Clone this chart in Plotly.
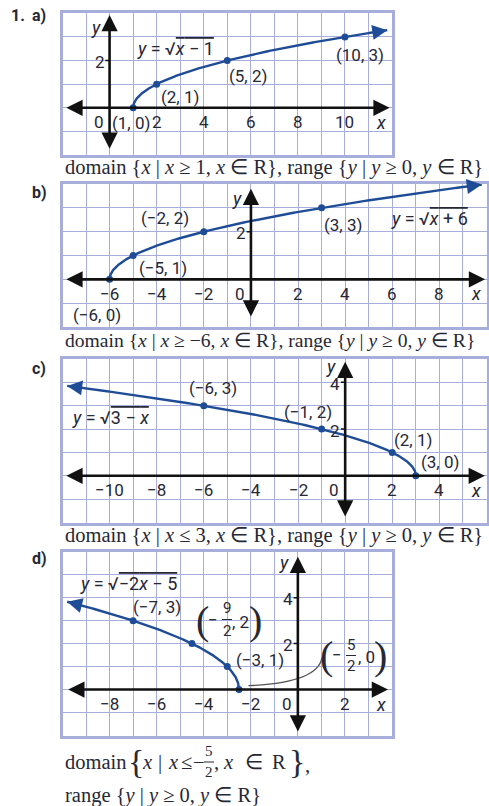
import numpy as np
import plotly.graph_objects as go

W, H = 489, 806

# ---- data: labelled points on each graph -------------------------------
a_x = [1, 2, 5, 10]
a_y = [0, 1, 2, 3]
b_x = [-6, -5, -2, 3]
b_y = [0, 1, 2, 3]
c_x = [-6, -1, 2, 3]
c_y = [3, 2, 1, 0]
d_x = [-7, -4.5, -3, -2.5]
d_y = [3, 2, 1, 0]

# x-extent of each drawn curve (vertex end, arrow end)
a_span = [1, 11.8]
b_span = [-6, 9.8]
c_span = [3, -11.8]
d_span = [-2.5, -9.8]

# axis tick labels
a_xticks = [2, 4, 6, 8, 10]
b_xticks = [-6, -4, -2, 2, 4, 6, 8]
c_xticks = [-10, -8, -6, -4, -2, 2, 4]
d_xticks = [-8, -6, -4, -2, 2]
a_yticks = [2]
b_yticks = [2]
c_yticks = [4, 2]
d_yticks = [4, 2]


def f_a(x):
    return np.sqrt(x - 1)


def f_b(x):
    return np.sqrt(x + 6)


def f_c(x):
    return np.sqrt(3 - x)


def f_d(x):
    return np.sqrt(-2 * x - 5)


GRID = "#a8aedb"
CURVE = "#1f4c96"
INK = "#262835"
SANS = "Roboto, Arial, sans-serif"
SERIF = "Liberation Serif, Times New Roman, serif"
LBL = 17

# panel layout: plot box in pixels (left, right, top, bottom), ranges,
# axis extents and offset of the "y" caption below the box top
panels = {
    "a": dict(box=(62.5, 392, 13.3, 155), xr=(-2, 12), yr=(-2, 4),
              xax=(-1.9, 11.9), yax=(-1.8, 3.93), ycap=14),
    "b": dict(box=(62.5, 486.5, 184, 327), xr=(-8, 10), yr=(-2, 4),
              xax=(-7.9, 9.94), yax=(-1.62, 3.8), ycap=14),
    "c": dict(box=(62.5, 486.5, 359, 522.5), xr=(-12, 6), yr=(-2, 5),
              xax=(-11.9, 5.93), yax=(-1.81, 4.88), ycap=7.5),
    "d": dict(box=(62.5, 392, 551.7, 735.5), xr=(-10, 4), yr=(-2, 6),
              xax=(-9.82, 3.83), yax=(-1.89, 5.78), ycap=11),
}

series = {
    "a": (a_x, a_y, a_span, f_a, a_xticks, a_yticks),
    "b": (b_x, b_y, b_span, f_b, b_xticks, b_yticks),
    "c": (c_x, c_y, c_span, f_c, c_xticks, c_yticks),
    "d": (d_x, d_y, d_span, f_d, d_xticks, d_yticks),
}

fig = go.Figure()
annotations = []
shapes = []


def P(px, py):
    return px / W, 1 - py / H


def text(px, py, s, size=LBL, font=SANS, color=INK, xanchor="center", yanchor="middle"):
    x, y = P(px, py)
    annotations.append(dict(x=x, y=y, xref="paper", yref="paper", text=s,
                            showarrow=False, xanchor=xanchor, yanchor=yanchor,
                            font=dict(family=font, size=size, color=color)))


def hline(px0, px1, py, color=INK, width=1):
    x0, y0 = P(px0, py)
    x1, _ = P(px1, py)
    shapes.append(dict(type="line", xref="paper", yref="paper", x0=x0, x1=x1,
                       y0=y0, y1=y0, line=dict(color=color, width=width)))


for i, key in enumerate(["a", "b", "c", "d"], start=1):
    p = panels[key]
    xs, ys, span, fn, xt, yt = series[key]
    left, right, top, bottom = p["box"]
    xa = "xaxis" if i == 1 else f"xaxis{i}"
    ya = "yaxis" if i == 1 else f"yaxis{i}"
    xr_ref = "x" if i == 1 else f"x{i}"
    yr_ref = "y" if i == 1 else f"y{i}"
    common = dict(showgrid=True, gridcolor=GRID, gridwidth=1.3, dtick=1,
                  tick0=0, zeroline=False, showticklabels=False, ticks="",
                  showline=True, mirror=True, linecolor=GRID, linewidth=3,
                  fixedrange=True)
    fig.update_layout(**{
        xa: dict(domain=[left / W, right / W], range=list(p["xr"]),
                 anchor=yr_ref, **common),
        ya: dict(domain=[1 - bottom / H, 1 - top / H], range=list(p["yr"]),
                 anchor=xr_ref, **common),
    })

    # coordinate axes with arrowheads at both ends
    x0, x1 = p["xax"]
    annotations.append(dict(x=x1, y=0, ax=x0, ay=0, xref=xr_ref, yref=yr_ref,
                            axref=xr_ref, ayref=yr_ref, text="", showarrow=True,
                            arrowhead=2, arrowside="end+start", arrowsize=1.25,
                            arrowwidth=2.6, arrowcolor="#111111"))
    y0, y1 = p["yax"]
    annotations.append(dict(x=0, y=y1, ax=0, ay=y0, xref=xr_ref, yref=yr_ref,
                            axref=xr_ref, ayref=yr_ref, text="", showarrow=True,
                            arrowhead=2, arrowside="end+start", arrowsize=1.25,
                            arrowwidth=2.6, arrowcolor="#111111"))
    for v in yt:
        shapes.append(dict(type="line", xref=xr_ref, yref=yr_ref, x0=-0.18, x1=0,
                           y0=v, y1=v, line=dict(color="#111111", width=1.5)))

    # curve: dense near the vertex
    s = np.linspace(0, 1, 240)
    cx = span[0] + (span[1] - span[0]) * s ** 2
    cy = fn(cx)
    fig.add_trace(go.Scatter(x=cx, y=cy, mode="lines", xaxis=xr_ref, yaxis=yr_ref,
                             line=dict(color=CURVE, width=2.4), hoverinfo="skip",
                             showlegend=False))
    # arrow at the open end of the curve
    xe = span[1]
    xb = xe - 0.35 * np.sign(span[1] - span[0])
    annotations.append(dict(x=xe, y=float(fn(xe)), ax=xb, ay=float(fn(xb)),
                            xref=xr_ref, yref=yr_ref, axref=xr_ref, ayref=yr_ref,
                            text="", showarrow=True, arrowhead=2, arrowsize=1.25,
                            arrowwidth=2.4, arrowcolor=CURVE))
    fig.add_trace(go.Scatter(x=xs, y=ys, mode="markers", xaxis=xr_ref, yaxis=yr_ref,
                             marker=dict(color=CURVE, size=7), showlegend=False,
                             hoverinfo="skip"))

    # tick labels drawn beside the axes
    ux = (right - left) / (p["xr"][1] - p["xr"][0])
    uy = (bottom - top) / (p["yr"][1] - p["yr"][0])
    ox = left - p["xr"][0] * ux
    oy = top + p["yr"][1] * uy
    lab_y = oy + 14.5
    for v in xt:
        lbl = str(v).replace("-", "−")
        text(ox + v * ux, lab_y, lbl)
    text(ox - 11, lab_y, "0")
    text(ox + (p["xr"][1] - 0.45) * ux, lab_y, "<i>x</i>", size=18)
    text(ox - 14, top + p["ycap"], "<i>y</i>", size=18)
    for v in yt:
        text(ox - 10, oy - v * uy + 1.5, str(v))

# ---- point labels and equations ----------------------------------------
OL = "<span style='text-decoration:overline'>"
EQ = 18
text(135, 48, "<i>y</i> = √" + OL + "<i>x</i> − 1</span>", size=EQ, xanchor="left")
text(131, 123, "(1, 0)")
text(180, 97, "(2, 1)")
text(248, 76, "(5, 2)")
text(360, 55, "(10, 3)")

text(389, 218, "<i>y</i> = √" + OL + "<i>x</i> + 6</span>", size=EQ, xanchor="left")
text(165, 218, "(−2, 2)")
text(163, 268, "(−5, 1)")
text(343, 225, "(3, 3)")
text(97, 314.5, "(−6, 0)")

text(70, 417, "<i>y</i> = √" + OL + "3 − <i>x</i></span>", size=EQ, xanchor="left")
text(213, 388, "(−6, 3)")
text(308, 412, "(−1, 2)")
text(413, 440, "(2, 1)")
text(440, 462, "(3, 0)")

text(78, 583, "<i>y</i> = √" + OL + "−2<i>x</i> − 5</span>", size=EQ, xanchor="left")
text(157, 607, "(−7, 3)")
text(260, 660, "(−3, 1)")
# (−9/2, 2)
text(202, 620, "(", size=40, font=SERIF)
text(213, 620, "−")
text(227, 608, "9", size=15)
text(227, 631, "2", size=15)
hline(222, 232, 619.5)
text(240, 622, ", 2")
text(255, 620, ")", size=40, font=SERIF)
# (−5/2, 0)
text(326, 655, "(", size=40, font=SERIF)
text(337, 655, "−")
text(351, 645, "5", size=15)
text(351, 666, "2", size=15)
hline(346, 356, 655.5)
text(366, 657, ", 0")
text(380, 655, ")", size=40, font=SERIF)
shapes.append(dict(type="path", xref="x4", yref="y4",
                   path="M -2.1,0.17 Q 0.85,0.3 1.02,1.38",
                   line=dict(color="#555555", width=1.3)))

# ---- panel letters -----------------------------------------------------
text(9, 15, "<b>1.</b>", size=16, xanchor="left")
text(30, 15, "<b>a)</b>", size=16, xanchor="left")
text(30, 192, "<b>b)</b>", size=16, xanchor="left")
text(30, 368, "<b>c)</b>", size=16, xanchor="left")
text(30, 558, "<b>d)</b>", size=16, xanchor="left")

# ---- domain and range statements ---------------------------------------
DS = 20.5
rng = "range {<i>y</i> | <i>y</i> ≥ 0, <i>y</i> ∈ R}"
text(63, 168, "domain {<i>x</i> | <i>x</i> ≥ 1, <i>x</i> ∈ R}, " + rng,
     size=DS, font=SERIF, xanchor="left")
text(63, 340, "domain {<i>x</i> | <i>x</i> ≥ −6, <i>x</i> ∈ R}, " + rng,
     size=19.6, font=SERIF, xanchor="left")
text(63, 535, "domain {<i>x</i> | <i>x</i> ≤ 3, <i>x</i> ∈ R}, " + rng,
     size=DS, font=SERIF, xanchor="left")
text(63, 762, "domain", size=DS, font=SERIF, xanchor="left")
text(136, 761, "{", size=34, font=SERIF)
for cx_, s_ in [(147, "<i>x</i>"), (160, "|"), (173, "<i>x</i>"), (186, "≤"), (199, "−"),
                (216, ","), (228, "<i>x</i>"), (254, "∈"), (279, "R")]:
    text(cx_, 762, s_, size=DS, font=SERIF)
text(209, 751, "5", size=15, font=SERIF)
text(209, 772, "2", size=15, font=SERIF)
hline(204, 214, 762)
text(297, 761, "}", size=34, font=SERIF)
text(307, 765, ",", size=DS, font=SERIF)
text(63, 795, rng, size=DS, font=SERIF, xanchor="left")

fig.update_layout(width=W, height=H, margin=dict(l=0, r=0, t=0, b=0),
                  paper_bgcolor="white", plot_bgcolor="white",
                  annotations=annotations, shapes=shapes, showlegend=False)
fig.write_html("out.html")
